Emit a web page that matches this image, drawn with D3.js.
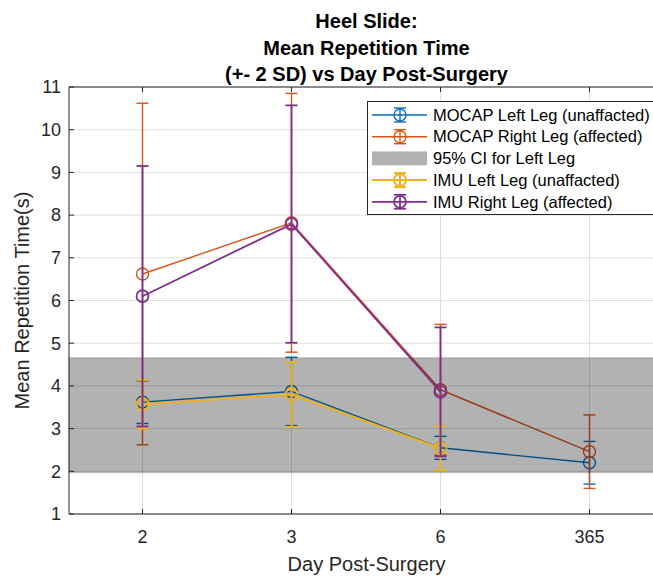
<!DOCTYPE html>
<html>
<head>
<meta charset="utf-8">
<script src="https://cdn.jsdelivr.net/npm/d3@7"></script>
<style>
  html, body { margin: 0; padding: 0; background: #fff; }
  svg { display: block; font-family: "Liberation Sans", Arial, sans-serif; }
</style>
</head>
<body>
<svg id="chart" width="653" height="576"></svg>
<script>
// values
const days = ["2", "3", "6", "365"];
const mocapLeft = [3.62, 3.87, 2.55, 2.20];
const mocapLeftErr = [0.50, 0.80, 0.27, 0.50];
const mocapRight = [6.62, 7.82, 3.91, 2.46];
const mocapRightErr = [4.00, 3.03, 1.53, 0.86];
const imuLeft = [3.57, 3.80, 2.54, null];
const imuLeftErr = [0.57, 0.76, 0.52, null];
const imuRight = [6.10, 7.79, 3.86, null];
const imuRightErr = [3.05, 2.78, 1.51, null];
const ciLeft = [1.97, 4.66];
const yTicks = [1, 2, 3, 4, 5, 6, 7, 8, 9, 10, 11];
const titleLines = ["Heel Slide:", "Mean Repetition Time", "(+- 2 SD) vs Day Post-Surgery"];

const series = [
  { name: "MOCAP Left Leg (unaffacted)", values: mocapLeft, errs: mocapLeftErr, color: "#0072BD", lw: 1.4 },
  { name: "MOCAP Right Leg (affected)", values: mocapRight, errs: mocapRightErr, color: "#D95319", lw: 1.4 },
  { name: "95% CI for Left Leg", band: ciLeft },
  { name: "IMU Left Leg (unaffacted)", values: imuLeft, errs: imuLeftErr, color: "#EDB120", lw: 2 },
  { name: "IMU Right Leg (affected)", values: imuRight, errs: imuRightErr, color: "#7E2F8E", lw: 1.8 }
];

const axisColor = "#262626";
const svg = d3.select("#chart");
const plotLeft = 69, plotTop = 87, plotBottom = 514, plotRight = 664;

const x = d3.scaleLinear().domain([-0.5, 3.5]).range([plotLeft - 1, plotRight]);
const y = d3.scaleLinear().domain([1, 11]).range([plotBottom, plotTop]);

// grid
const grid = svg.append("g").attr("stroke", axisColor).attr("stroke-opacity", 0.15).attr("stroke-width", 1);
yTicks.forEach(t => grid.append("line").attr("x1", plotLeft).attr("x2", plotRight).attr("y1", y(t)).attr("y2", y(t)));
days.forEach((d, i) => grid.append("line").attr("x1", x(i)).attr("x2", x(i)).attr("y1", plotTop).attr("y2", plotBottom));

const plot = svg.append("g");
const capW = 6;

function drawSeries(s) {
  const g = plot.append("g").attr("stroke", s.color).attr("fill", "none").attr("stroke-width", s.lw);
  const pts = s.values.map((v, i) => ({ i, v, e: s.errs[i] })).filter(p => p.v != null);
  const line = d3.line().x(p => x(p.i)).y(p => y(p.v));
  g.append("path").attr("d", line(pts));
  pts.forEach(p => {
    g.append("line").attr("x1", x(p.i)).attr("x2", x(p.i)).attr("y1", y(p.v - p.e)).attr("y2", y(p.v + p.e));
    [p.v - p.e, p.v + p.e].forEach(c =>
      g.append("line").attr("x1", x(p.i) - capW).attr("x2", x(p.i) + capW).attr("y1", y(c)).attr("y2", y(c)));
    g.append("circle").attr("cx", x(p.i)).attr("cy", y(p.v)).attr("r", 6);
  });
}

series.forEach(s => {
  if (s.band) {
    plot.append("rect")
      .attr("x", plotLeft).attr("width", plotRight - plotLeft)
      .attr("y", y(s.band[1])).attr("height", y(s.band[0]) - y(s.band[1]))
      .attr("fill", "#000").attr("fill-opacity", 0.3)
      .attr("stroke", "#000").attr("stroke-opacity", 0.12).attr("stroke-width", 1.5);
  } else {
    drawSeries(s);
  }
});

// axes box and ticks
const ax = svg.append("g").attr("stroke", axisColor).attr("stroke-width", 1).attr("fill", "none");
ax.append("line").attr("x1", plotLeft).attr("x2", plotLeft).attr("y1", plotTop).attr("y2", plotBottom);
ax.append("line").attr("x1", plotLeft).attr("x2", plotRight).attr("y1", plotBottom).attr("y2", plotBottom);
ax.append("line").attr("x1", plotLeft).attr("x2", plotRight).attr("y1", plotTop).attr("y2", plotTop);
yTicks.forEach(t => ax.append("line").attr("x1", plotLeft).attr("x2", plotLeft + 5).attr("y1", y(t)).attr("y2", y(t)));
days.forEach((d, i) => {
  ax.append("line").attr("x1", x(i)).attr("x2", x(i)).attr("y1", plotBottom).attr("y2", plotBottom - 5);
  ax.append("line").attr("x1", x(i)).attr("x2", x(i)).attr("y1", plotTop).attr("y2", plotTop + 5);
});

const labels = svg.append("g").attr("fill", axisColor);
yTicks.forEach(t => labels.append("text")
  .attr("x", plotLeft - 8).attr("y", y(t)).attr("dy", "0.35em")
  .attr("text-anchor", "end").attr("font-size", 18).text(t));
days.forEach((d, i) => labels.append("text")
  .attr("x", x(i)).attr("y", 537).attr("dy", "0.35em")
  .attr("text-anchor", "middle").attr("font-size", 18).text(d));

labels.append("text").attr("x", (plotLeft + plotRight) / 2).attr("y", 564).attr("dy", "0.35em")
  .attr("text-anchor", "middle").attr("font-size", 20).text("Day Post-Surgery");
labels.append("text").attr("transform", `translate(22,${(plotTop + plotBottom) / 2}) rotate(-90)`)
  .attr("dy", "0.35em").attr("text-anchor", "middle").attr("font-size", 20).text("Mean Repetition Time(s)");

titleLines.forEach((t, k) => svg.append("text")
  .attr("x", (plotLeft + plotRight) / 2).attr("y", 21 + k * 26.5).attr("dy", "0.35em")
  .attr("text-anchor", "middle").attr("font-size", 20).attr("font-weight", "bold")
  .attr("fill", "#000").text(t));

// legend
const lg = svg.append("g");
lg.append("rect").attr("x", 367.5).attr("y", 101.5).attr("width", 300).attr("height", 113)
  .attr("fill", "#fff").attr("stroke", axisColor).attr("stroke-width", 1);
series.forEach((s, k) => {
  const ry = 115 + k * 21.7;
  const row = lg.append("g");
  if (s.band) {
    row.append("rect").attr("x", 372).attr("y", ry - 7).attr("width", 55).attr("height", 14)
      .attr("fill", "#000").attr("fill-opacity", 0.3);
  } else {
    const g = row.append("g").attr("stroke", s.color).attr("fill", "none").attr("stroke-width", s.lw);
    g.append("line").attr("x1", 372).attr("x2", 427).attr("y1", ry).attr("y2", ry);
    g.append("line").attr("x1", 400).attr("x2", 400).attr("y1", ry - 7).attr("y2", ry + 7);
    [ry - 7, ry + 7].forEach(c => g.append("line").attr("x1", 394).attr("x2", 406).attr("y1", c).attr("y2", c));
    g.append("circle").attr("cx", 400).attr("cy", ry).attr("r", 6);
  }
  row.append("text").attr("x", 433).attr("y", ry).attr("dy", "0.35em")
    .attr("font-size", 16.5).attr("fill", "#000").text(s.name);
});
</script>
</body>
</html>
